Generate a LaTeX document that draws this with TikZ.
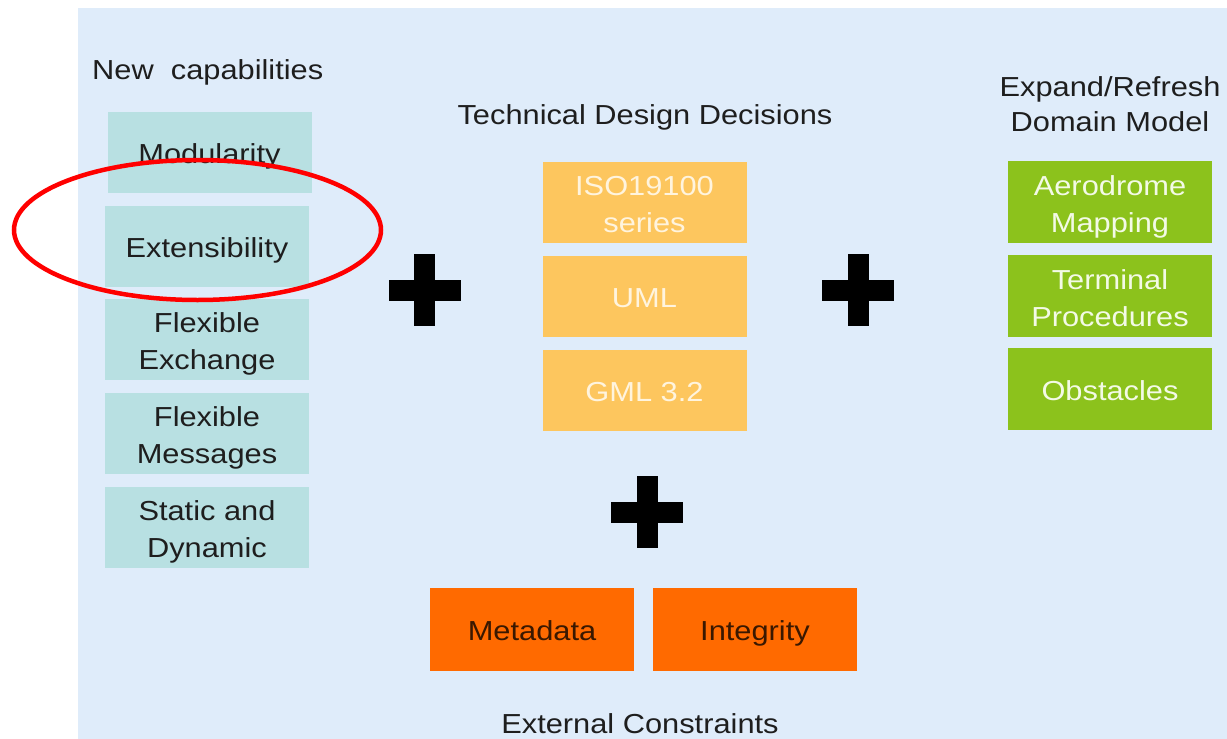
\documentclass[tikz,border=0pt]{standalone}
\usepackage{fontspec}
\setmainfont{Liberation Sans}[FakeStretch=1.12]
\usetikzlibrary{shapes.geometric}
\definecolor{bgblue}{HTML}{DFECFA}
\definecolor{tealbox}{HTML}{B8E0E2}
\definecolor{amberbox}{HTML}{FDC65E}
\definecolor{greenbox}{HTML}{8CC21C}
\definecolor{orangebox}{HTML}{FF6A00}
\definecolor{darktext}{HTML}{1E1E1E}
\definecolor{ambertext}{HTML}{FFF4DE}
\definecolor{greentext}{HTML}{F3FAE6}
\definecolor{orangetext}{HTML}{3A1800}
\begin{document}
\begin{tikzpicture}[x=1pt,y=-1pt,
  every node/.style={font=\fontsize{27.5}{37}\selectfont, inner sep=0pt, align=center},
  basebox/.style={rectangle, minimum width=204pt, minimum height=81pt},
  oneline/.style={text height=22pt, text depth=0pt},
  twoline/.style={text height=60pt, text depth=0pt},
  capbox/.style={basebox, fill=tealbox, text=darktext},
  techbox/.style={basebox, fill=amberbox, text=ambertext},
  domainbox/.style={basebox, fill=greenbox, text=greentext, minimum height=82pt},
  extbox/.style={basebox, fill=orangebox, text=orangetext, minimum height=83pt},
  title/.style={text=darktext},
  plusbar/.style={fill=black}
]
\useasboundingbox[fill=white] (0,0) rectangle (1227,739);
\fill[bgblue] (78,8) rectangle (1227,739);

% titles
\node[title, oneline, anchor=west] (tcap) at (92,68) {New\ \ capabilities};
\node[title, oneline] (ttech) at (645,113) {Technical Design Decisions};
\node[title, twoline, font=\fontsize{27.5}{35}\selectfont, text height=57pt] (tdom) at (1110,103) {Expand/Refresh\\Domain Model};
\node[title, oneline] (text) at (640,722) {External Constraints};

% new capabilities
\node[capbox, oneline] (mod) at (209.5,152.5) {Modularity};
\node[capbox, oneline] (ext) at (207,246) {Extensibility};
\node[capbox, twoline] (fex) at (207,339) {Flexible\\Exchange};
\node[capbox, twoline] (fms) at (207,433) {Flexible\\Messages};
\node[capbox, twoline] (sdy) at (207,527) {Static and\\Dynamic};

% technical design decisions
\node[techbox, twoline] (iso) at (644.5,202.5) {ISO19100\\series};
\node[techbox, oneline] (uml) at (644.5,296.5) {UML};
\node[techbox, oneline] (gml) at (644.5,390.5) {GML 3.2};

% domain model
\node[domainbox, twoline] (aer) at (1110,202) {Aerodrome\\Mapping};
\node[domainbox, twoline] (ter) at (1110,296) {Terminal\\Procedures};
\node[domainbox, oneline] (obs) at (1110,389) {Obstacles};

% external constraints
\node[extbox, oneline] (meta) at (532,629.5) {Metadata};
\node[extbox, oneline] (integ) at (755,629.5) {Integrity};

% plus signs
\foreach \cx/\cy in {424.5/290, 858/290, 647/512}{
  \fill[plusbar] (\cx-36,\cy-10.5) rectangle (\cx+36,\cy+10.5);
  \fill[plusbar] (\cx-10.5,\cy-36) rectangle (\cx+10.5,\cy+36);
}

% red highlight ellipse
\node[draw=red, line width=4.5pt, ellipse, minimum width=367pt, minimum height=140pt] (hl) at (197.5,230) {};
\end{tikzpicture}
\end{document}
